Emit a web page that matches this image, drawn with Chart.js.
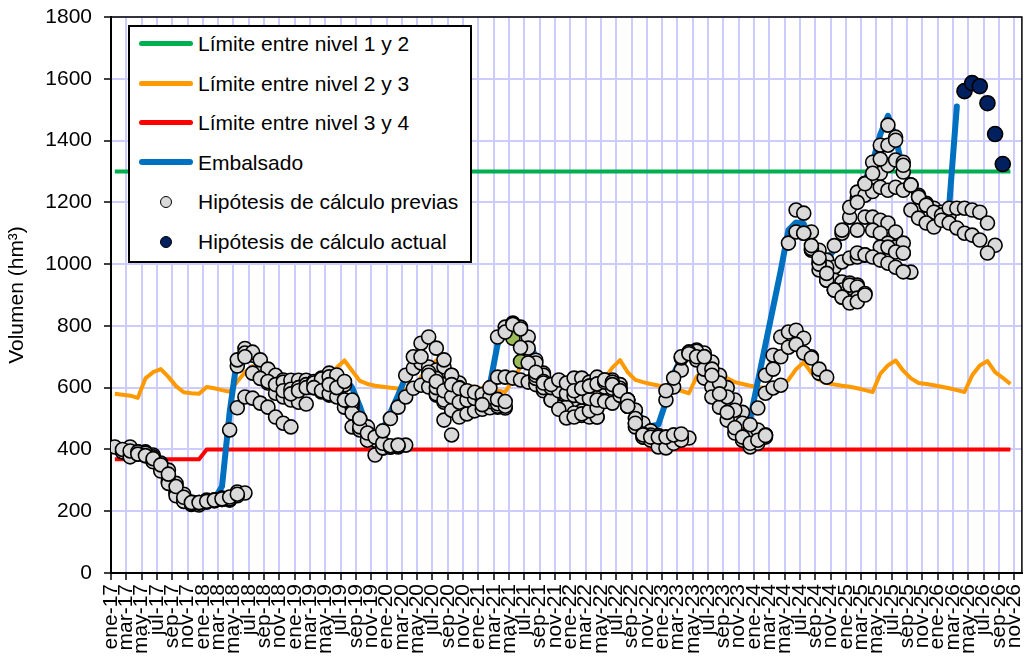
<!DOCTYPE html>
<html lang="es">
<head>
<meta charset="utf-8">
<title>Volumen embalsado e hipótesis de cálculo</title>
<script src="https://cdn.jsdelivr.net/npm/chart.js@4.4.1/dist/chart.umd.min.js"></script>
<style>
  html, body { margin: 0; padding: 0; background: #fff; }
  #wrap { position: relative; width: 1031px; height: 658px; }
  #leyenda {
    position: absolute; left: 128px; top: 25px; width: 344px; height: 238px;
    box-sizing: border-box; border: 2px solid #000; background: #fff;
    font: 21px "Liberation Sans", Arial, sans-serif; color: #000;
  }
  .fila { position: absolute; left: 0; right: 0; height: 28px; }
  .fila .linea { position: absolute; left: 9px; top: 11px; width: 54px; height: 5px; border-radius: 3px; }
  .fila .punto { position: absolute; left: 30px; top: 8px; width: 10px; height: 10px; border-radius: 50%; border: 1.5px solid #000; }
  .fila .texto { position: absolute; left: 68px; top: 1px; white-space: nowrap; line-height: 26px; }
</style>
</head>
<body>
<div id="wrap">
  <canvas id="grafico"></canvas>
  <div id="leyenda"></div>
</div>
<script>
// meses contados desde ene-17 (0); cada dato se sitúa a mitad de mes
const meses = ['ene', 'feb', 'mar', 'abr', 'may', 'jun', 'jul', 'ago', 'sep', 'oct', 'nov', 'dic'];
const anioInicio = 2017;
const mesesEje = 119;

const limite12Meses = [0, 117];
const limite12 = [1300, 1300];

const limite34Meses = [0, 11, 12, 117];
const limite34 = [368, 368, 400, 400];

const limite23 = [
  580, 577, 574, 567, 630, 650, 660, 635, 605, 585, 582, 580,
  602, 598, 592, 587, 620, 650, 670, 645, 615, 605, 602, 598,
  595, 592, 590, 588, 625, 665, 688, 655, 622, 612, 606, 603,
  600, 597, 594, 590, 635, 668, 688, 655, 625, 615, 608, 602,
  598, 594, 590, 586, 625, 667, 688, 655, 625, 615, 610, 606,
  602, 598, 594, 590, 630, 665, 689, 650, 625, 618, 612, 607,
  604, 598, 590, 582, 635, 662, 684, 657, 630, 618, 612, 606,
  602, 598, 595, 600, 625, 660, 682, 648, 625, 615, 610, 606,
  603, 598, 592, 586, 645, 672, 688, 655, 630, 615, 612, 608,
  603, 598, 592, 586, 640, 672, 686, 650, 632, 612
];

const embalsado = [
  410, 400, 395, 392, 385, 375, 355, 320, 280, 250, 230, 225,
  228, 240, 280, 520, 700, 720, 700, 660, 620, 590, 570, 570,
  580, 600, 610, 620, 630, 640, 635, 600, 540, 470, 440, 465,
  520, 575, 635, 690, 730, 755, 735, 680, 620, 590, 570, 555,
  550, 610, 740, 790, 805, 790, 750, 700, 650, 610, 585, 575,
  580, 600, 610, 620, 625, 620, 600, 570, 530, 495, 475, 480,
  555, 645, 695, 712, 720, 705, 660, 600, 540, 490, 465, 500,
  620, 740, 860, 980, 1110, 1135, 1130, 1070, 1020, 1010, 1050, 1100,
  1160, 1210, 1270, 1330, 1420, 1480, 1410, 1300, 1260, 1220, 1190, 1175,
  1170, 1190, 1510
];

const actualInicio = 111;
const actual = [1560, 1586, 1576, 1521, 1421, 1324];

// cada hipótesis previa: mes de inicio y valores mensuales
const previasInicio = [
  0, 1, 2, 3, 5,
  15, 16, 16, 17, 22, 23, 26, 28, 30,
  35, 38, 42, 39, 40, 41, 42, 44,
  48, 50, 51, 53, 55, 55, 56, 60, 61,
  64, 65, 66, 67,
  72, 72, 74, 75, 77, 78,
  83, 85, 86, 89, 88, 90, 91, 92,
  94, 95, 97, 99, 104, 104, 97, 99, 100, 97
];
const previasValores = [
  [408, 392, 408, 392, 392, 382, 345, 294, 259, 232, 222, 228, 236, 236, 243, 236, 262, 259],
  [400, 376, 385, 380, 376, 356, 333, 290, 255, 230, 220, 230, 234, 238, 240, 250],
  [395, 392, 388, 370, 340, 300, 262, 238, 225, 228, 232, 236, 242],
  [385, 380, 360, 330, 290, 250, 232, 224, 226, 230, 234, 238],
  [370, 350, 320, 280, 245, 228, 228, 232, 236, 240, 246, 255],
  [463, 535, 570, 566, 550, 537, 505, 485, 473],
  [670, 727, 705, 650, 615, 582, 570, 560, 553, 547],
  [690, 712, 715, 690, 660, 640, 625],
  [700, 647, 630, 620, 610, 618, 624, 624, 624, 600, 586, 576],
  [590, 595, 600, 610, 620, 631, 647, 615, 537, 473, 463],
  [580, 590, 600, 615, 628, 635, 641, 609, 537, 495, 453, 430, 408, 408, 408, 414],
  [600, 590, 580, 570, 560, 550, 495, 473, 430, 405, 408, 410],
  [610, 600, 560, 518, 473, 430, 382, 405, 408],
  [620, 560, 500, 453, 440, 420, 412, 414],
  [460, 500, 537, 570, 598, 608, 602, 576, 553, 530],
  [640, 663, 680, 667, 657, 667, 640, 615],
  [630, 610, 592, 586, 580, 576, 560, 550, 537, 534],
  [700, 744, 764, 728, 690, 640, 600, 585, 575, 565, 555, 545],
  [700, 650, 580, 495, 447],
  [640, 600, 560, 527, 505, 515, 525, 530, 535, 540],
  [620, 590, 570, 553, 560, 565, 560, 555, 548, 540],
  [610, 598, 590, 585, 578, 570, 562, 555],
  [545, 600, 634, 634, 631, 625, 618, 610, 600, 590],
  [764, 796, 809, 796, 764, 689, 647, 610, 580, 560, 545, 537, 530],
  [780, 805, 790, 728, 680, 640, 600, 575, 555, 540, 525, 518, 505],
  [730, 680, 630, 590, 560, 537, 537, 518, 510, 505, 505],
  [640, 600, 560, 530, 502, 505, 515, 525, 535],
  [650, 620, 600, 590, 580, 575, 570, 565, 560, 555, 550],
  [615, 610, 625, 615, 631, 631, 618, 634, 625, 618, 598, 560],
  [590, 598, 605, 612, 602, 598, 575, 540, 485, 440],
  [598, 605, 612, 618, 625, 610, 560, 527, 473, 447, 440],
  [625, 618, 598, 560, 527, 485, 460, 445, 440, 447, 437, 437],
  [610, 590, 540, 473, 440, 447, 440, 430, 435, 437],
  [590, 560, 500, 450, 430, 408, 405, 420, 430],
  [540, 485, 447, 440, 440, 440, 447, 450],
  [560, 602, 657, 712, 722, 712, 683, 640, 600, 560, 520],
  [590, 631, 696, 715, 718, 700],
  [700, 715, 690, 631, 602, 570, 527, 495, 473, 447, 447, 447],
  [710, 700, 660, 570, 537, 495, 453, 430, 408, 420, 440],
  [700, 660, 615, 570, 527, 485, 463, 463, 447],
  [640, 580, 520, 470, 440, 420, 430, 445],
  [480, 534, 582, 599, 608],
  [640, 705, 764, 780, 786, 760, 700, 647],
  [660, 700, 731, 740, 712, 696, 660, 634],
  [1175, 1165, 1104, 1045, 1013, 990, 1007, 1020, 1023, 1029],
  [1068, 1104, 1100, 1045, 981, 990, 948, 942, 939, 932],
  [1100, 1050, 1007, 948, 916, 916, 932, 926],
  [1060, 1000, 948, 916, 893, 880, 890, 905],
  [1020, 970, 916, 893, 874, 878, 900],
  [1060, 1100, 1152, 1214, 1262, 1282, 1294, 1320, 1337, 1298],
  [1110, 1184, 1233, 1223, 1235, 1249, 1239, 1249, 1239, 1256, 1223, 1197, 1181, 1168, 1158],
  [1200, 1260, 1330, 1385, 1450, 1411, 1330],
  [1294, 1340, 1385, 1401, 1320, 1256, 1217, 1191, 1168, 1158],
  [1256, 1217, 1191, 1168, 1158, 1181, 1181, 1181, 1175, 1168, 1133, 1061],
  [1175, 1149, 1133, 1120, 1142, 1133, 1117, 1100, 1094, 1078, 1036],
  [1110, 1152, 1152, 1142, 1133, 1104, 1036, 974],
  [1110, 1100, 1068, 1055, 1068],
  [1055, 1055, 1039, 1036],
  [1036, 1030, 1023, 1013, 1003, 990, 975]
];

// dos puntos verdosos sueltos (sin entrada en la leyenda)
const verdesMeses = [52, 53];
const verdes = [760, 685];

const fuente = '"Liberation Sans", Arial, sans-serif';

function desde(inicio, valores) {
  return valores.map((v, i) => ({ x: inicio + i + 0.5, y: v }));
}
function pares(mesesSerie, valores) {
  return mesesSerie.map((m, i) => ({ x: m + 0.5, y: valores[i] }));
}
function etiquetaMes(m) {
  return meses[m % 12] + '-' + String(anioInicio + Math.floor(m / 12)).slice(2);
}

const puntosPrevios = previasInicio.flatMap((ini, k) => desde(ini, previasValores[k]));

const marcoPlot = {
  id: 'marcoPlot',
  beforeDatasetsDraw(chart) {
    const { ctx, chartArea: a } = chart;
    ctx.save();
    ctx.strokeStyle = '#000';
    ctx.lineWidth = 1.5;
    ctx.strokeRect(a.left, a.top, a.right - a.left, a.bottom - a.top);
    ctx.restore();
  }
};

const chart = new Chart(document.getElementById('grafico'), {
  type: 'scatter',
  data: {
    datasets: [
      {
        label: 'Límite entre nivel 1 y 2', data: pares(limite12Meses, limite12),
        showLine: true, borderColor: '#00B050', borderWidth: 4, pointRadius: 0, order: 6
      },
      {
        label: 'Límite entre nivel 2 y 3', data: desde(0, limite23),
        showLine: true, borderColor: '#FF9900', borderWidth: 4, pointRadius: 0,
        borderJoinStyle: 'round', order: 5
      },
      {
        label: 'Límite entre nivel 3 y 4', data: pares(limite34Meses, limite34),
        showLine: true, borderColor: '#FF0000', borderWidth: 4, pointRadius: 0, order: 4
      },
      {
        label: 'Embalsado', data: desde(0, embalsado),
        showLine: true, borderColor: '#0070C0', borderWidth: 6, pointRadius: 0,
        borderJoinStyle: 'round', borderCapStyle: 'round', order: 3
      },
      {
        label: 'Hipótesis de cálculo previas', data: puntosPrevios,
        backgroundColor: '#D9D9D9', borderColor: '#000', borderWidth: 1.6,
        pointRadius: 7, order: 1
      },
      {
        label: 'Hipótesis de cálculo actual', data: desde(actualInicio, actual),
        backgroundColor: '#002060', borderColor: '#000', borderWidth: 1.6,
        pointRadius: 7.5, order: 0
      },
      {
        label: 'verdes', enLeyenda: false, data: pares(verdesMeses, verdes),
        backgroundColor: '#9BBB59', borderColor: '#000', borderWidth: 1.6,
        pointRadius: 7, order: 2
      }
    ]
  },
  options: {
    responsive: true,
    maintainAspectRatio: false,
    animation: false,
    events: [],
    layout: { padding: { top: 17, right: 6, left: 0, bottom: 0 } },
    plugins: { legend: { display: false }, tooltip: { enabled: false } },
    scales: {
      x: {
        type: 'linear',
        bounds: 'data',
        min: 0,
        max: mesesEje,
        grid: { color: '#CCCCFF', lineWidth: 2, tickColor: '#000', tickLength: 7, tickWidth: 1.5 },
        border: { color: '#000', width: 2 },
        ticks: {
          stepSize: 2, includeBounds: false, autoSkip: false,
          minRotation: 90, maxRotation: 90, padding: 4,
          color: '#000', font: { family: fuente, size: 21 },
          callback: v => etiquetaMes(v)
        },
        // sólo marcas cada dos meses (sin la del borde derecho)
        afterBuildTicks(scale) { scale.ticks = scale.ticks.filter(t => t.value % 2 === 0); },
        afterFit(scale) { scale.height = 85; scale.paddingLeft = 0; scale.paddingRight = 0; }
      },
      y: {
        min: 0,
        max: 1800,
        grid: { color: '#CCCCFF', lineWidth: 2, tickColor: '#000', tickLength: 7, tickWidth: 1.5 },
        border: { color: '#000', width: 2 },
        ticks: {
          stepSize: 200, padding: 12, color: '#000',
          font: { family: fuente, size: 21 },
          callback: v => String(v)
        },
        title: {
          display: true, text: 'Volumen (hm³)', color: '#000',
          font: { family: fuente, size: 21 }, padding: { top: 5, bottom: 0 }
        },
        afterFit(scale) { scale.width = 111; scale.paddingTop = 0; scale.paddingBottom = 0; }
      }
    }
  },
  plugins: [marcoPlot]
});

// leyenda dentro del área de trazado, como en el original
const leyenda = document.getElementById('leyenda');
let fila = 0;
chart.data.datasets.forEach(ds => {
  if (ds.enLeyenda === false) return;
  const div = document.createElement('div');
  div.className = 'fila';
  div.style.top = (17 + fila * 39.6 - 14) + 'px';
  const muestra = document.createElement('div');
  if (ds.showLine) {
    muestra.className = 'linea';
    muestra.style.background = ds.borderColor;
    if (ds.borderWidth > 5) { muestra.style.height = '6px'; muestra.style.top = '10px'; }
  } else {
    muestra.className = 'punto';
    muestra.style.background = ds.backgroundColor;
  }
  const texto = document.createElement('div');
  texto.className = 'texto';
  texto.textContent = ds.label;
  div.appendChild(muestra);
  div.appendChild(texto);
  leyenda.appendChild(div);
  fila++;
});
</script>
</body>
</html>
